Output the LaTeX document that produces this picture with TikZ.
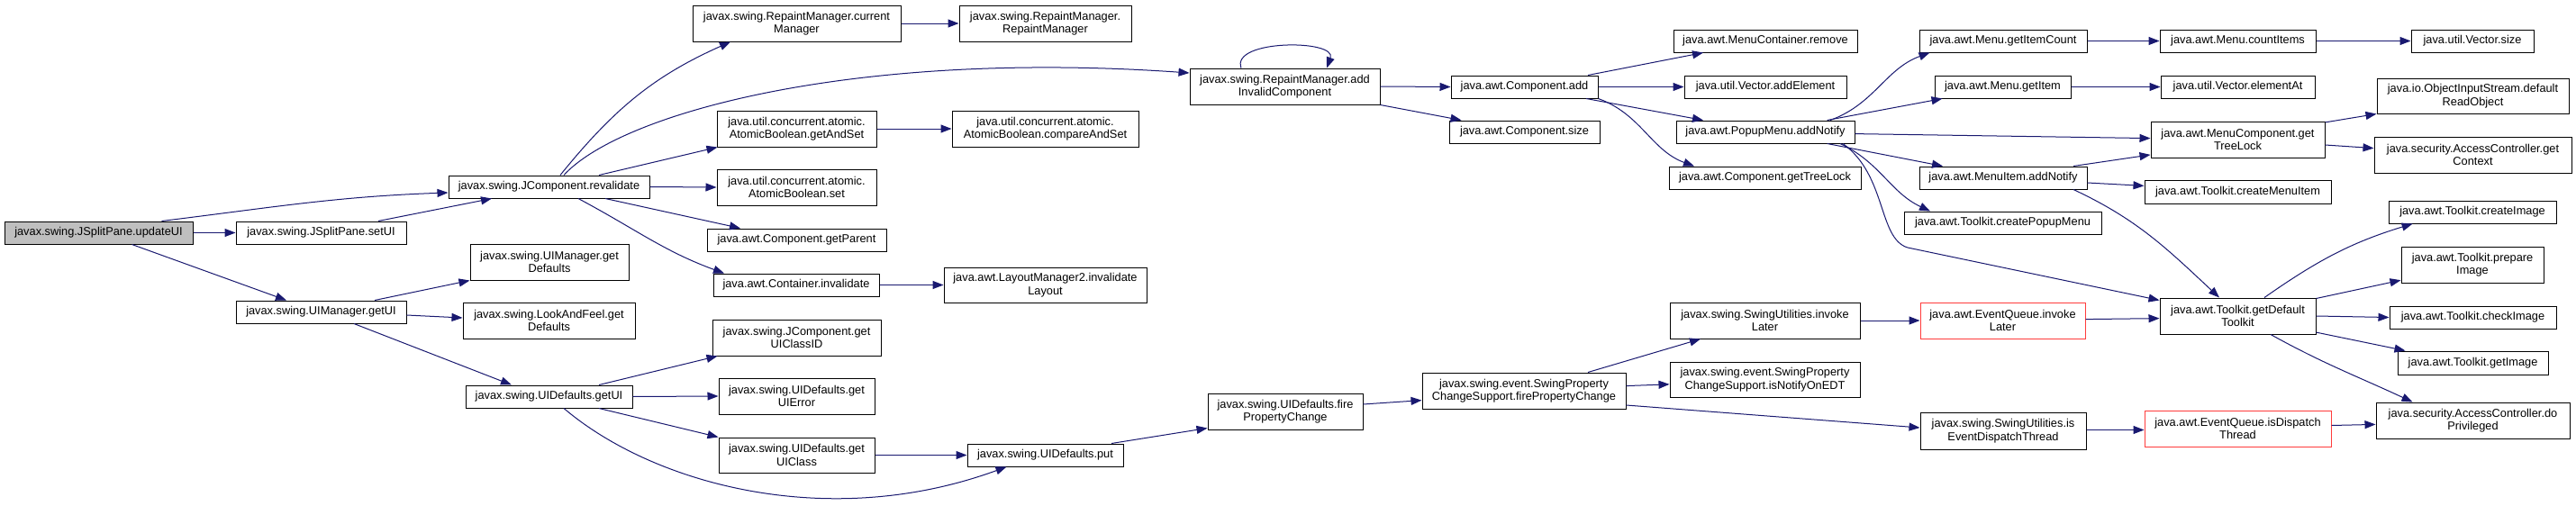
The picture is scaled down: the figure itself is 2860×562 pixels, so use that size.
\documentclass[tikz,border=0pt]{standalone}
\usepackage{fontspec}
\setmainfont{Liberation Sans}
\usetikzlibrary{arrows.meta}
\definecolor{edgec}{RGB}{25,25,112}
\definecolor{redc}{RGB}{255,60,60}
\definecolor{rootfill}{RGB}{191,191,191}
\tikzset{
 box/.style={draw=black, line width=1pt, fill=white, inner sep=0pt, align=center, font=\fontsize{12.8}{14.6}\selectfont, text=black},
 rootbox/.style={fill=rootfill},
 redbox/.style={draw=redc},
 edge/.style={draw=edgec, line width=1pt, -{Triangle[length=12pt,width=9pt]}},
}
\newcommand{\gnode}[7][]{\node[box,#1,minimum width=#5pt,minimum height=#6pt] (#2) at (#3pt,-#4pt) {#7};}
\begin{document}
\begin{tikzpicture}
\fill[white] (0,0) rectangle (2860pt,-562pt);
\useasboundingbox (0,0) rectangle (2860pt,-562pt);
\gnode[rootbox]{A}{109.5}{258.5}{209}{25}{javax.swing.JSplitPane.updateUI}
\gnode{B}{356.5}{258.5}{189}{25}{javax.swing.JSplitPane.setUI}
\gnode{C}{356.5}{346.5}{189}{25}{javax.swing.UIManager.getUI}
\gnode{D}{609.5}{207.5}{223}{25}{javax.swing.JComponent.revalidate}
\gnode{E}{610}{291}{176}{40}{javax.swing.UIManager.get\\Defaults}
\gnode{F}{609.5}{356}{191}{40}{javax.swing.LookAndFeel.get\\Defaults}
\gnode{G}{609.5}{440.5}{185}{25}{javax.swing.UIDefaults.getUI}
\gnode{H}{884.5}{26}{231}{40}{javax.swing.RepaintManager.current\\Manager}
\gnode{I}{884.5}{143}{177}{40}{java.util.concurrent.atomic.\\AtomicBoolean.getAndSet}
\gnode{J}{884.5}{208}{177}{40}{java.util.concurrent.atomic.\\AtomicBoolean.set}
\gnode{K}{884.5}{266.5}{199}{25}{java.awt.Component.getParent}
\gnode{L}{884}{316.5}{184}{25}{java.awt.Container.invalidate}
\gnode{M}{884.5}{375}{187}{40}{javax.swing.JComponent.get\\UIClassID}
\gnode{N}{884.5}{440}{173}{40}{javax.swing.UIDefaults.get\\UIError}
\gnode{O}{884.5}{505.5}{173}{39}{javax.swing.UIDefaults.get\\UIClass}
\gnode{P}{1160.5}{26}{191}{40}{javax.swing.RepaintManager.\\RepaintManager}
\gnode{Q}{1426.5}{96}{211}{40}{javax.swing.RepaintManager.add\\InvalidComponent}
\gnode{R}{1160.5}{143}{207}{40}{java.util.concurrent.atomic.\\AtomicBoolean.compareAndSet}
\gnode{S}{1160.5}{316.5}{225}{39}{java.awt.LayoutManager2.invalidate\\Layout}
\gnode{T}{1160.5}{505.5}{173}{25}{javax.swing.UIDefaults.put}
\gnode{U}{1427}{457}{172}{40}{javax.swing.UIDefaults.fire\\PropertyChange}
\gnode{V}{1692.5}{96.5}{163}{25}{java.awt.Component.add}
\gnode{W}{1692.5}{146.5}{167}{25}{java.awt.Component.size}
\gnode{X}{1692}{434}{226}{40}{javax.swing.event.SwingProperty\\ChangeSupport.firePropertyChange}
\gnode{Y}{1960}{45.5}{204}{25}{java.awt.MenuContainer.remove}
\gnode{Z}{1960}{96.5}{180}{25}{java.util.Vector.addElement}
\gnode{AA}{1960}{146.5}{198}{25}{java.awt.PopupMenu.addNotify}
\gnode{AB}{1959.5}{197.5}{213}{25}{java.awt.Component.getTreeLock}
\gnode{AC}{1959.5}{356}{211}{40}{javax.swing.SwingUtilities.invoke\\Later}
\gnode{AD}{1959.5}{421.5}{211}{39}{javax.swing.event.SwingProperty\\ChangeSupport.isNotifyOnEDT}
\gnode{AE}{2224}{45.5}{186}{25}{java.awt.Menu.getItemCount}
\gnode{AF}{2223.5}{96.5}{151}{25}{java.awt.Menu.getItem}
\gnode{AG}{2224}{197.5}{186}{25}{java.awt.MenuItem.addNotify}
\gnode{AH}{2223.5}{247.5}{219}{25}{java.awt.Toolkit.createPopupMenu}
\gnode[redbox]{AI}{2223.5}{356}{183}{40}{java.awt.EventQueue.invoke\\Later}
\gnode{AJ}{2224}{478.5}{184}{41}{javax.swing.SwingUtilities.is\\EventDispatchThread}
\gnode{AK}{2484.5}{45.5}{173}{25}{java.awt.Menu.countItems}
\gnode{AL}{2745}{45.5}{136}{25}{java.util.Vector.size}
\gnode{AM}{2484.5}{96.5}{171}{25}{java.util.Vector.elementAt}
\gnode{AN}{2484.5}{155}{193}{40}{java.awt.MenuComponent.get\\TreeLock}
\gnode{AO}{2484.5}{213}{207}{26}{java.awt.Toolkit.createMenuItem}
\gnode{AP}{2484.5}{351}{173}{40}{java.awt.Toolkit.getDefault\\Toolkit}
\gnode[redbox]{AQ}{2484.5}{476}{207}{40}{java.awt.EventQueue.isDispatch\\Thread}
\gnode{AR}{2745.5}{106.5}{213}{39}{java.io.ObjectInputStream.default\\ReadObject}
\gnode{AS}{2745.5}{172}{219}{40}{java.security.AccessController.get\\Context}
\gnode{AT}{2745}{235.5}{186}{25}{java.awt.Toolkit.createImage}
\gnode{AU}{2745}{294}{158}{40}{java.awt.Toolkit.prepare\\Image}
\gnode{AV}{2745.5}{352.5}{185}{25}{java.awt.Toolkit.checkImage}
\gnode{AW}{2745.5}{403}{167}{26}{java.awt.Toolkit.getImage}
\gnode{AX}{2745.5}{467}{215}{40}{java.security.AccessController.do\\Privileged}

\draw[edge] ([xshift=70pt]A.north) to[out=7,in=182] ([yshift=-6.5pt]D.west);
\draw[edge] (A.east) -- (B.west);
\draw[edge] ([xshift=37pt]A.south) -- ([xshift=-38.5pt]C.north);
\draw[edge] ([xshift=63.5pt]B.north) -- ([xshift=-63.5pt]D.south);
\draw[edge] ([xshift=59.5pt]C.north) -- (E.south west);
\draw[edge] ([yshift=-3.5pt]C.east) -- ([yshift=3pt]F.west);
\draw[edge] ([xshift=36.5pt]C.south) -- ([xshift=-41.5pt]G.north);
\draw[edge] ([xshift=12.5pt]D.north) to[out=51,in=204] ([xshift=-73.5pt]H.south);
\draw[edge] ([xshift=16.5pt]D.north) .. controls (690pt,-125pt) and (950pt,-55pt) .. ([yshift=15pt]Q.west);
\draw[edge] ([xshift=55.5pt]D.north) -- ([xshift=1pt]I.south west);
\draw[edge] (D.east) -- (J.west);
\draw[edge] ([xshift=62.5pt]D.south) -- ([xshift=-62.5pt]K.north);
\draw[edge] ([xshift=32.5pt]D.south) to[out=-28,in=160] ([xshift=-80pt]L.north);
\draw[edge] (H.east) -- (P.west);
\draw[edge] ([xshift=-48.5pt]Q.north) .. controls +(-12pt,32pt) and +(12pt,32pt) .. ([xshift=46.5pt]Q.north);
\draw[edge] (Q.east) -- (V.west);
\draw[edge] (Q.south east) -- ([xshift=14pt]W.north west);
\draw[edge] (I.east) -- (R.west);
\draw[edge] (L.east) -- (S.west);
\draw[edge] ([xshift=55.5pt]G.north) -- ([xshift=6pt]M.south west);
\draw[edge] (G.east) -- (N.west);
\draw[edge] ([xshift=55.5pt]G.south) -- (O.north west);
\draw[edge] ([xshift=16.5pt]G.south) .. controls +(100pt,-85pt) and +(-197pt,-72pt) .. ([xshift=-43pt]T.south);
\draw[edge] (O.east) -- (T.west);
\draw[edge] ([xshift=-13.5pt]T.north east) -- ([yshift=2pt]U.south west);
\draw[edge] ([yshift=8pt]U.east) -- ([yshift=-10.6pt]X.west);
\draw[edge] ([xshift=71pt]X.north) -- ([xshift=-71.5pt]AC.south);
\draw[edge] ([yshift=5.4pt]X.east) -- ([yshift=-5.3pt]AD.west);
\draw[edge] ([yshift=-16pt]X.east) -- ([yshift=3.5pt]AJ.west);
\draw[edge] ([xshift=70.5pt]V.north) -- ([xshift=-69pt]Y.south);
\draw[edge] (V.east) -- (Z.west);
\draw[edge] ([xshift=68.5pt]V.south) -- ([xshift=-69pt]AA.north);
\draw[edge] (V.south east) to[out=-20,in=160] ([xshift=-78.5pt]AB.north);
\draw[edge] ([xshift=72pt]AA.north) to[out=20,in=200] ([xshift=12pt]AE.south west);
\draw[edge] ([xshift=68.6pt]AA.north) -- ([xshift=9pt]AF.south west);
\draw[edge] ([yshift=-2.1pt]AA.east) -- ([yshift=1.4pt]AN.west);
\draw[edge] ([xshift=68.6pt]AA.south) -- ([xshift=-67pt]AG.north);
\draw[edge] ([xshift=83pt]AA.south) to[out=-25,in=155] ([xshift=-80.5pt]AH.north);
\draw[edge] ([xshift=86pt]AA.south) .. controls (2095pt,-195pt) and (2085pt,-265pt) .. (2118pt,-275pt) -- ([yshift=-3pt]AP.north west);
\draw[edge] ([xshift=78pt]AG.north) -- ([yshift=3.6pt]AN.south west);
\draw[edge] ([yshift=-5.5pt]AG.east) -- ([yshift=6.6pt]AO.west);
\draw[edge] ([xshift=78pt]AG.south) to[out=-25,in=137] ([xshift=-20.5pt]AP.north);
\draw[edge] ([yshift=1.4pt]AI.east) -- ([yshift=-2.6pt]AP.west);
\draw[edge] (AC.east) -- (AI.west);
\draw[edge] ([yshift=1pt]AJ.east) -- ([yshift=-1.5pt]AQ.west);
\draw[edge] ([yshift=3.5pt]AQ.east) -- ([yshift=-4.4pt]AX.west);
\draw[edge] (AE.east) -- (AK.west);
\draw[edge] (AK.east) -- (AL.west);
\draw[edge] (AF.east) -- (AM.west);
\draw[edge] ([yshift=-1.4pt]AN.north east) -- (AR.south west);
\draw[edge] ([yshift=-6pt]AN.east) -- ([yshift=7.4pt]AS.west);
\draw[edge] ([xshift=29.5pt]AP.north) to[out=35,in=197] ([xshift=-66.4pt]AT.south);
\draw[edge] ([yshift=-1pt]AP.north east) -- ([yshift=3.3pt]AU.south west);
\draw[edge] (AP.east) -- (AV.west);
\draw[edge] ([yshift=2.4pt]AP.south east) -- ([xshift=9pt]AW.north west);
\draw[edge] ([xshift=36.5pt]AP.south) to[out=-29,in=155] ([xshift=-67pt]AX.north);
\end{tikzpicture}
\end{document}
